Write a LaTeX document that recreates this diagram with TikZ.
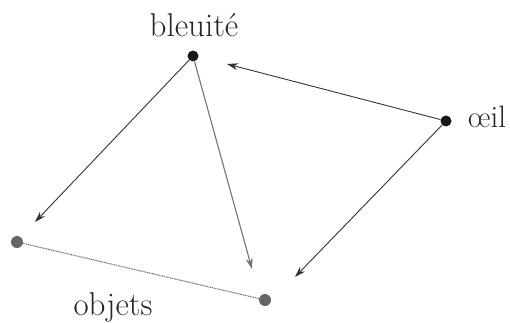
\documentclass[tikz,border=0pt]{standalone}
\usetikzlibrary{arrows.meta}
\begin{document}
\begin{tikzpicture}[x=1pt,y=-1pt,
  dotnode/.style={circle,fill=#1,inner sep=0pt,minimum size=11pt},
  lbl/.style={font=\fontsize{33}{33}\selectfont,text=black!85,inner sep=0pt},
  arr/.style={draw=black!80,line width=0.9pt,-{Stealth[length=11pt,width=7pt]}},
  arrgray/.style={draw=black!55,line width=1.1pt,-{Stealth[length=11pt,width=7pt]}},
  link/.style={draw=black!55,line width=1.1pt,dash pattern=on 1pt off 0.7pt}]
\useasboundingbox (0,0) rectangle (510,323);
% dots
\node[dotnode=black!90] (b) at (193,56) {};
\node[dotnode=black!90] (e) at (446,121) {};
\node[dotnode=black!60,minimum size=12pt] (l) at (17,242) {};
\node[dotnode=black!60,minimum size=12pt] (r) at (265,300) {};
% labels
\node[lbl,anchor=base] (tb) at (194,37) {bleuit\'e};
\node[lbl,anchor=base west,font=\fontsize{31}{31}\selectfont] (te) at (468,128) {\oe il};
\node[lbl,anchor=base] (to) at (113,315) {objets};
% arrow tip coordinates
\coordinate (tl) at (35,222);
\coordinate (tr) at (252,269);
\coordinate (tb2) at (227,64);
\coordinate (te2) at (295,277);
% connectors
\draw[link] (l) -- (r);
\draw[arr] (b) -- (tl);
\draw[arrgray] (b) -- (tr);
\draw[arr] (e) -- (tb2);
\draw[arr] (e) -- (te2);
\end{tikzpicture}
\end{document}
